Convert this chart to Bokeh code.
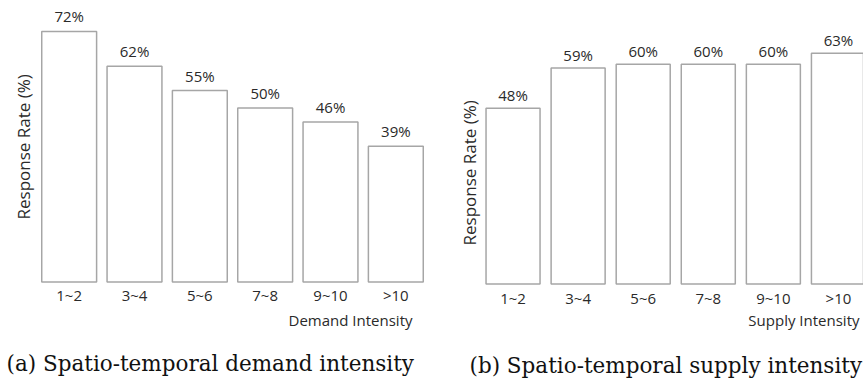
from bokeh.plotting import figure
from bokeh.models import ColumnDataSource, Range1d, Title, FixedTicker, Label
from bokeh.layouts import row, column
from bokeh.core.properties import value
from bokeh.embed import file_html
from bokeh.resources import INLINE

demand_categories = ["1~2", "3~4", "5~6", "7~8", "9~10", ">10"]
demand_rates = [72, 62, 55, 50, 46, 39]
supply_categories = ["1~2", "3~4", "5~6", "7~8", "9~10", ">10"]
supply_rates = [48, 59, 60, 60, 60, 63]

TEXT = "#2a2a2a"
SANS = "Open Sans"


def make_panel(cats, rates, width, height, x_end, y_range, border_left, border_right, border_bottom,
               tick_standoff, ylabel, ylabel_offset, ylabel_standoff, bar_width, label_offset):
    idx = list(range(len(cats)))
    src = ColumnDataSource(dict(x=idx, rate=rates, label=[f"{r}%" for r in rates]))
    p = figure(width=width, height=height, x_range=Range1d(-0.5, x_end), y_range=Range1d(*y_range),
               output_backend="svg", toolbar_location=None,
               min_border_left=border_left, min_border_right=border_right,
               min_border_top=10, min_border_bottom=border_bottom)
    p.outline_line_color = None
    p.grid.visible = False
    p.yaxis.visible = False
    ax = p.xaxis[0]
    ax.ticker = FixedTicker(ticks=idx)
    ax.major_label_overrides = {i: c for i, c in zip(idx, cats)}
    ax.axis_line_color = None
    ax.major_tick_line_color = None
    ax.minor_tick_line_color = None
    ax.major_tick_out = 0
    ax.major_tick_in = 0
    ax.major_label_standoff = tick_standoff
    ax.major_label_text_font = SANS
    ax.major_label_text_font_size = "15px"
    ax.major_label_text_color = TEXT

    p.vbar(x="x", top="rate", bottom=0, width=bar_width, source=src,
           fill_color="white", line_color="#a6a6a6", line_width=1.5)
    p.text(x="x", y="rate", text="label", source=src, text_align="center",
           text_baseline="bottom", y_offset=label_offset, text_font=value(SANS),
           text_font_size="15px", text_color=TEXT)

    p.add_layout(Title(text=ylabel, align="left", offset=ylabel_offset,
                       standoff=ylabel_standoff, text_font=SANS, text_font_size="17px",
                       text_font_style="normal", text_color=TEXT), "left")
    return p


p1 = make_panel(demand_categories, demand_rates, 440, 310, 5.5, (-1, 78), 36, 12, 23,
                -1, "Response Rate (%)", 66, 3, 0.84, -5)
p2 = make_panel(supply_categories, supply_rates, 423, 310, 5.385, (-0.4, 74.7), 40, 0, 23,
                2, "Response Rate (%)", 40, 0, 0.83, -3)

# caption strip: one pixel per data unit
CAP_W, CAP_H = 863, 69
cap = figure(width=CAP_W, height=CAP_H, x_range=Range1d(0, CAP_W), y_range=Range1d(0, CAP_H),
             output_backend="svg", toolbar_location=None,
             min_border_left=0, min_border_right=0, min_border_top=0, min_border_bottom=0)
cap.outline_line_color = None
cap.grid.visible = False
cap.axis.visible = False
for txt, x, y, font, size, align, color in [
    ("Demand Intensity", 412, 60, SANS, "15px", "right", TEXT),
    ("Supply Intensity", 859, 60, SANS, "15px", "right", TEXT),
    ("(a) Spatio-temporal demand intensity", 6, 16, "DejaVu Serif", "21.5px", "left", "#111111"),
    ("(b) Spatio-temporal supply intensity", 469, 14, "DejaVu Serif", "21.5px", "left", "#111111"),
]:
    cap.add_layout(Label(x=x, y=y, text=txt, text_align=align, text_baseline="middle",
                         text_font=font, text_font_size=size, text_color=color))

layout = column(row(p1, p2), cap)
open("out.html", "w").write(file_html(layout, INLINE))
